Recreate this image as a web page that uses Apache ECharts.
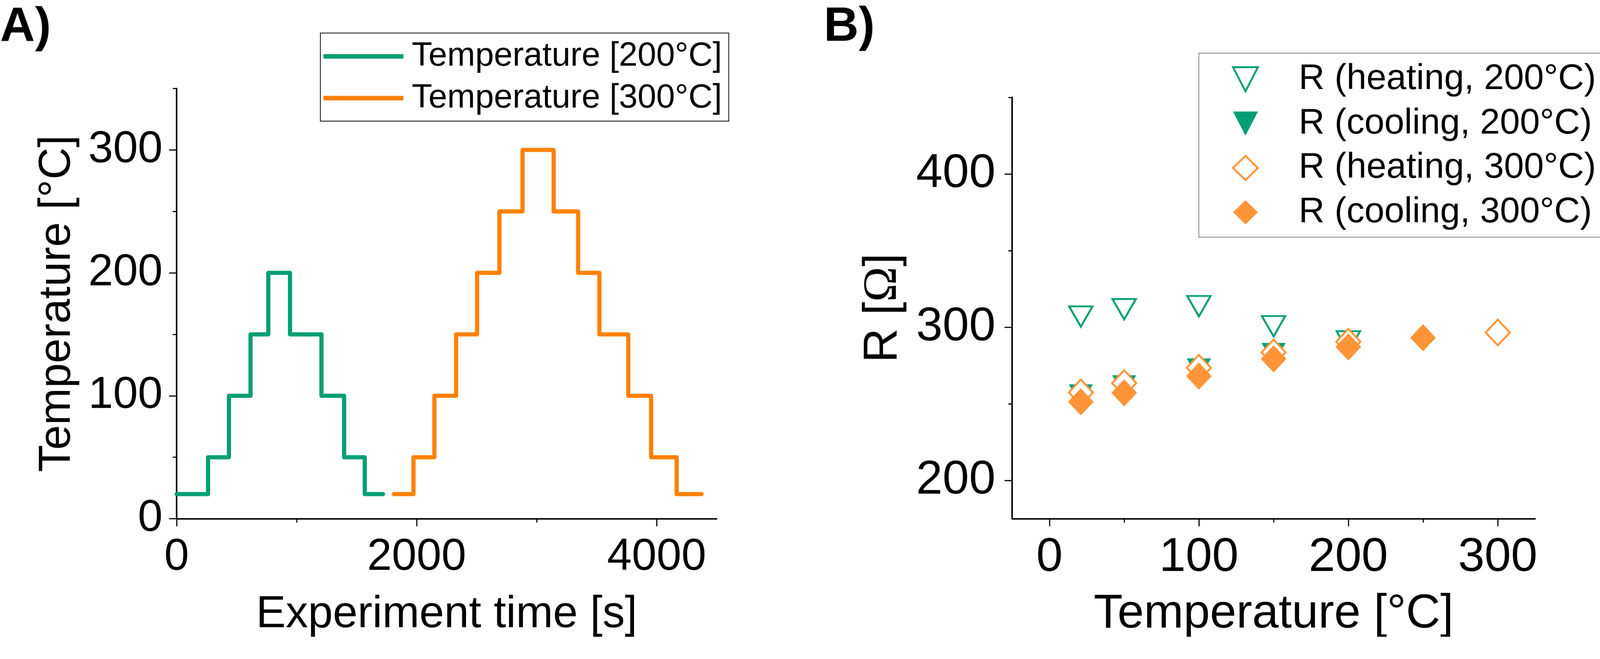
<!DOCTYPE html>
<html>
<head>
<meta charset="utf-8">
<title>Temperature program and resistance</title>
<script src="https://cdn.jsdelivr.net/npm/echarts@6/dist/echarts.min.js"></script>
<style>
  html, body { margin: 0; padding: 0; background: #fff; overflow: hidden; }
  #wrap { width: 4240px; height: 1687px; transform-origin: 0 0; }
  #chart { width: 4240px; height: 1687px; }
</style>
</head>
<body>
<div id="wrap"><div id="chart"></div></div>
<script>
// data
// A) temperature steps: time where each level starts, and the level
const greenTime = [0, 262, 436, 616, 764, 945, 1207, 1396, 1568, 1720];
const greenTemp = [20, 50, 100, 150, 200, 150, 100, 50, 20, 20];
const orangeTime = [1811, 1974, 2148, 2329, 2504, 2690, 2883, 3142, 3346, 3523, 3764, 3954, 4167, 4375];
const orangeTemp = [20, 50, 100, 150, 200, 250, 300, 250, 200, 150, 100, 50, 20, 20];

// B) resistance vs temperature
const heatT200 = [21, 50, 100, 150, 200];
const heatR200 = [306.9, 311.7, 313.7, 300.6, 290.7];
const coolT200 = [21, 50, 100, 150];
const coolR200 = [255.8, 261.7, 272.7, 282.8];
const heatT300 = [21, 50, 100, 150, 200, 300];
const heatR300 = [257.4, 263.5, 273.5, 283.5, 290.5, 296.5];
const coolT300 = [21, 50, 100, 150, 200, 250];
const coolR300 = [251.3, 257.1, 268.1, 279.3, 287.1, 293.1];

// tick values
const timeMajor = [0, 2000, 4000];
const timeMinor = [1000, 3000];
const tempMajor = [0, 100, 200, 300];
const tempMinor = [50, 150, 250, 350];
const bTempMajor = [0, 100, 200, 300];
const bTempMinor = [50, 150, 250];
const resMajor = [200, 300, 400];
const resMinor = [250, 350, 450];

const GREEN = '#009e73';
const ORANGE = '#ff8000';
const ORANGE_B = '#ff9438';
const FONT = 'Liberation Sans';
const TRI_DOWN = 'path://M0,0L2,0L1,2Z';

function zip(xs, ys) {
  return xs.map(function (x, i) { return [x, ys[i]]; });
}

function plain(v) {
  return String(v);
}

// main axis with long ticks and labels
function mainAxis(o) {
  return Object.assign({
    type: 'value',
    nameLocation: 'middle',
    nameMoveOverlap: false,
    axisLine: { show: true, onZero: false, lineStyle: { color: '#000', width: 4 } },
    splitLine: { show: false },
    minorTick: { show: false },
    minorSplitLine: { show: false }
  }, o);
}

// overlay axis that only draws short minor ticks
function minorAxis(o, ticks) {
  return Object.assign({
    type: 'value',
    axisLine: { show: false, onZero: false },
    axisTick: { show: true, inside: false, length: 10, customValues: ticks, lineStyle: { color: '#000', width: 3 } },
    axisLabel: { show: false },
    splitLine: { show: false }
  }, o);
}

function majorTick(values) {
  return { show: true, inside: false, length: 20, customValues: values, lineStyle: { color: '#000', width: 3 } };
}

function fitPage() {
  const s = Math.min(window.innerWidth / 4240, window.innerHeight / 1687);
  document.getElementById('wrap').style.transform = s < 1 ? 'scale(' + s + ')' : 'none';
}

document.addEventListener('DOMContentLoaded', function () {
  fitPage();
  const chartDom = document.getElementById('chart');
  const myChart = echarts.init(chartDom, null, { renderer: 'canvas' });

  const option = {
    animation: false,
    backgroundColor: '#fff',
    textStyle: { fontFamily: FONT, color: '#000' },
    title: [
      { text: 'A)', left: 0, top: 10, padding: 0,
        textStyle: { fontSize: 128, fontWeight: 'bold', fontFamily: FONT, color: '#000' } },
      { text: 'B)', left: 2183, top: 9, padding: 0,
        textStyle: { fontSize: 128, fontWeight: 'bold', fontFamily: FONT, color: '#000' } }
    ],
    legend: [
      {
        orient: 'vertical',
        left: 849, top: 87.5,
        padding: [12, 18, 11, 8],
        itemGap: 10.5,
        itemWidth: 212, itemHeight: 12,
        icon: 'rect',
        backgroundColor: '#fff',
        borderColor: '#000', borderWidth: 2, borderRadius: 0,
        selectedMode: false,
        textStyle: { fontSize: 89, lineHeight: 100, fontFamily: FONT, color: '#000', padding: [0, 0, 0, 17] },
        data: ['Temperature [200°C]', 'Temperature [300°C]']
      },
      {
        orient: 'vertical',
        left: 3177, top: 141,
        padding: [17, 20, 14, 88],
        itemGap: 13.5,
        itemWidth: 66, itemHeight: 64,
        symbolKeepAspect: false,
        backgroundColor: '#fff',
        borderColor: '#7f7f7f', borderWidth: 2, borderRadius: 0,
        selectedMode: false,
        textStyle: { fontSize: 95, lineHeight: 104, fontFamily: FONT, color: '#000', padding: [0, 0, 0, 103] },
        data: [
          { name: 'R (heating, 200°C)', icon: TRI_DOWN, itemStyle: { color: '#fff', borderColor: GREEN, borderWidth: 5 } },
          { name: 'R (cooling, 200°C)', icon: TRI_DOWN, itemStyle: { color: GREEN, borderWidth: 0 } },
          { name: 'R (heating, 300°C)', icon: 'diamond', itemStyle: { color: '#fff', borderColor: ORANGE_B, borderWidth: 5 } },
          { name: 'R (cooling, 300°C)', icon: 'diamond', itemStyle: { color: ORANGE_B, borderWidth: 0 } }
        ]
      }
    ],
    grid: [
      { left: 468, top: 234.4, width: 1431, height: 1140.1, outerBoundsMode: 'none', containLabel: false },
      { left: 2682, top: 257.8, width: 1386, height: 1116.7, outerBoundsMode: 'none', containLabel: false }
    ],
    xAxis: [
      mainAxis({
        gridIndex: 0, position: 'bottom', min: 0, max: 4500,
        name: 'Experiment time [s]', nameGap: 196,
        nameTextStyle: { fontSize: 118, fontFamily: FONT, color: '#000' },
        axisTick: majorTick(timeMajor),
        axisLabel: { customValues: timeMajor, formatter: plain, fontSize: 118, margin: 44, color: '#000', fontFamily: FONT }
      }),
      minorAxis({ gridIndex: 0, position: 'bottom', min: 0, max: 4500 }, timeMinor),
      mainAxis({
        gridIndex: 1, position: 'bottom', min: -25, max: 325,
        name: 'Temperature [°C]', nameGap: 191,
        nameTextStyle: { fontSize: 126, fontFamily: FONT, color: '#000' },
        axisTick: majorTick(bTempMajor),
        axisLabel: { customValues: bTempMajor, formatter: plain, fontSize: 126, margin: 41, color: '#000', fontFamily: FONT }
      }),
      minorAxis({ gridIndex: 1, position: 'bottom', min: -25, max: 325 }, bTempMinor)
    ],
    yAxis: [
      mainAxis({
        gridIndex: 0, position: 'left', min: 0, max: 350,
        name: 'Temperature [°C]', nameGap: 257,
        nameTextStyle: { fontSize: 118, fontFamily: FONT, color: '#000' },
        axisTick: majorTick(tempMajor),
        axisLabel: { customValues: tempMajor, formatter: plain, fontSize: 118, margin: 37, color: '#000', fontFamily: FONT }
      }),
      minorAxis({ gridIndex: 0, position: 'left', min: 0, max: 350 }, tempMinor),
      mainAxis({
        gridIndex: 1, position: 'left', min: 175, max: 450,
        name: '{a|R [}{b|Ω}{a|]}', nameGap: 278,
        nameTextStyle: {
          fontSize: 126, fontFamily: FONT, color: '#000',
          rich: {
            a: { fontSize: 126, fontFamily: FONT, color: '#000' },
            b: { fontSize: 126, fontFamily: 'Liberation Serif', color: '#000' }
          }
        },
        axisTick: majorTick(resMajor),
        axisLabel: { customValues: resMajor, formatter: plain, fontSize: 126, margin: 44, color: '#000', fontFamily: FONT }
      }),
      minorAxis({ gridIndex: 1, position: 'left', min: 175, max: 450 }, resMinor)
    ],
    series: [
      {
        name: 'Temperature [200°C]', type: 'line', xAxisIndex: 0, yAxisIndex: 0,
        step: 'end', showSymbol: false, symbol: 'none',
        data: zip(greenTime, greenTemp),
        itemStyle: { color: GREEN },
        lineStyle: { color: GREEN, width: 11, cap: 'round', join: 'round' },
        emphasis: { disabled: true }
      },
      {
        name: 'Temperature [300°C]', type: 'line', xAxisIndex: 0, yAxisIndex: 0,
        step: 'end', showSymbol: false, symbol: 'none',
        data: zip(orangeTime, orangeTemp),
        itemStyle: { color: ORANGE },
        lineStyle: { color: ORANGE, width: 11, cap: 'round', join: 'round' },
        emphasis: { disabled: true }
      },
      {
        name: 'R (heating, 200°C)', type: 'scatter', xAxisIndex: 2, yAxisIndex: 2,
        symbol: TRI_DOWN, symbolSize: [62, 54],
        data: zip(heatT200, heatR200),
        itemStyle: { color: '#fff', borderColor: GREEN, borderWidth: 5, opacity: 1 },
        emphasis: { disabled: true }
      },
      {
        name: 'R (cooling, 200°C)', type: 'scatter', xAxisIndex: 2, yAxisIndex: 2,
        symbol: TRI_DOWN, symbolSize: [64, 56],
        data: zip(coolT200, coolR200),
        itemStyle: { color: GREEN, opacity: 1 },
        emphasis: { disabled: true }
      },
      {
        name: 'R (heating, 300°C)', type: 'scatter', xAxisIndex: 2, yAxisIndex: 2,
        symbol: 'diamond', symbolSize: [64, 68],
        data: zip(heatT300, heatR300),
        itemStyle: { color: '#fff', borderColor: ORANGE_B, borderWidth: 5, opacity: 1 },
        emphasis: { disabled: true }
      },
      {
        name: 'R (cooling, 300°C)', type: 'scatter', xAxisIndex: 2, yAxisIndex: 2,
        symbol: 'diamond', symbolSize: [68, 72],
        data: zip(coolT300, coolR300),
        itemStyle: { color: ORANGE_B, opacity: 1 },
        emphasis: { disabled: true }
      }
    ]
  };

  myChart.setOption(option);
  window.addEventListener('resize', function () {
    fitPage();
    myChart.resize();
  });
});
</script>
</body>
</html>
